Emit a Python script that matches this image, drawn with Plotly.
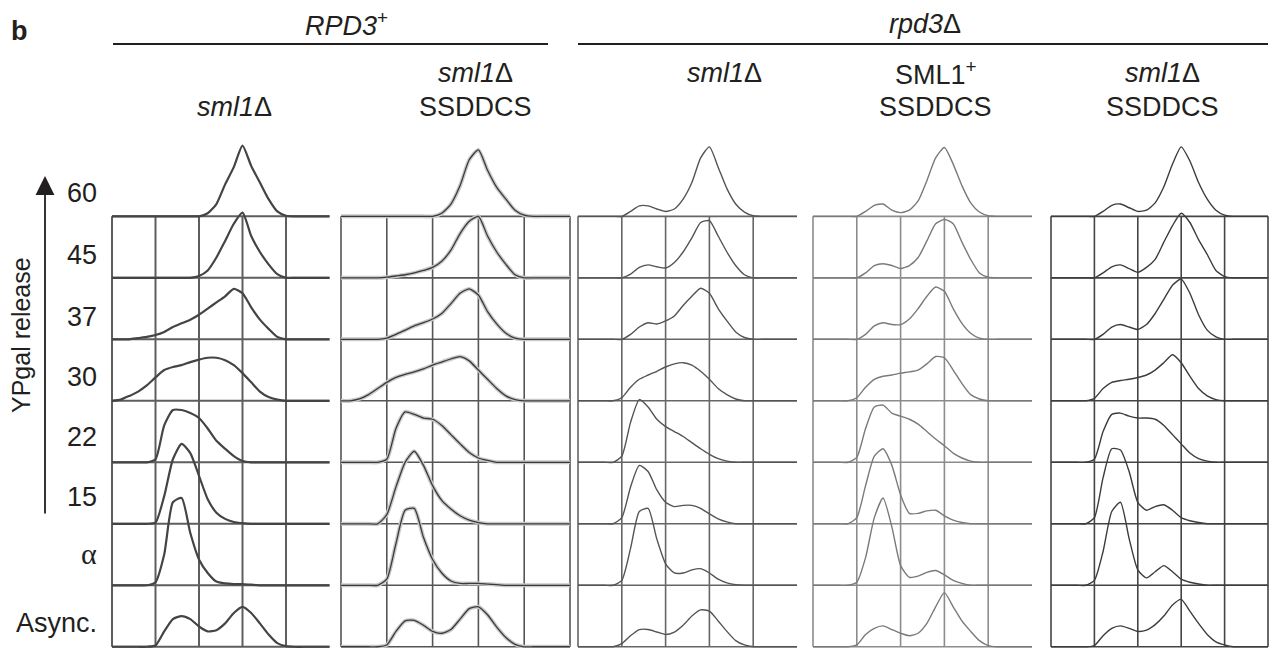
import plotly.graph_objects as go

# ---------------- data ----------------
x_bins = [0.0, 0.2, 0.4, 0.6, 0.8, 1.0, 1.2, 1.4, 1.6, 1.8, 2.0, 2.2, 2.4,
          2.6, 2.8, 3.0, 3.2, 3.4, 3.6, 3.8, 4.0, 4.2, 4.4, 4.6, 4.8, 5.0]

row_labels = ["Async.", "α", "15", "22", "30", "37", "45", "60"]

# column 1: RPD3+ sml1Δ
c1_async = [0, 0, 0, 0, 0, 0.02, 0.25, 0.45, 0.5, 0.45, 0.33, 0.25, 0.27, 0.38, 0.55, 0.65, 0.55, 0.38, 0.2, 0.06, 0.01, 0, 0, 0, 0, 0]
c1_alpha = [0, 0, 0, 0, 0, 0.05, 0.5, 1.35, 1.42, 0.85, 0.42, 0.2, 0.06, 0.03, 0.02, 0.02, 0.01, 0, 0, 0, 0, 0, 0, 0, 0, 0]
c1_15 = [0, 0, 0, 0, 0, 0.02, 0.45, 1.05, 1.3, 1.15, 0.78, 0.4, 0.18, 0.08, 0.03, 0.01, 0, 0, 0, 0, 0, 0, 0, 0, 0, 0]
c1_22 = [0, 0, 0, 0, 0, 0.05, 0.6, 0.85, 0.85, 0.8, 0.72, 0.55, 0.35, 0.22, 0.1, 0.02, 0, 0, 0, 0, 0, 0, 0, 0, 0, 0]
c1_30 = [0, 0.02, 0.08, 0.15, 0.25, 0.38, 0.5, 0.55, 0.58, 0.63, 0.67, 0.7, 0.7, 0.66, 0.58, 0.45, 0.3, 0.15, 0.06, 0.02, 0, 0, 0, 0, 0, 0]
c1_37 = [0, 0, 0, 0.02, 0.04, 0.07, 0.12, 0.2, 0.26, 0.32, 0.4, 0.5, 0.6, 0.7, 0.82, 0.75, 0.52, 0.32, 0.17, 0.04, 0, 0, 0, 0, 0, 0]
c1_45 = [0, 0, 0, 0, 0, 0, 0, 0, 0, 0, 0.03, 0.12, 0.33, 0.6, 0.88, 1.06, 0.68, 0.42, 0.22, 0.06, 0, 0, 0, 0, 0, 0]
c1_60 = [0, 0, 0, 0, 0, 0, 0, 0, 0, 0, 0, 0.05, 0.2, 0.52, 0.8, 1.15, 0.82, 0.55, 0.28, 0.08, 0.01, 0, 0, 0, 0, 0]

# column 2: RPD3+ sml1Δ SSDDCS
c2_async = [0, 0, 0, 0, 0, 0.03, 0.25, 0.42, 0.43, 0.35, 0.25, 0.22, 0.28, 0.45, 0.62, 0.65, 0.52, 0.32, 0.15, 0.04, 0, 0, 0, 0, 0, 0]
c2_alpha = [0, 0, 0, 0, 0, 0.1, 0.68, 1.22, 1.25, 0.78, 0.42, 0.2, 0.07, 0.03, 0.03, 0.03, 0.02, 0.01, 0, 0, 0, 0, 0, 0, 0, 0]
c2_15 = [0, 0, 0, 0, 0, 0.15, 0.6, 1.0, 1.18, 0.95, 0.62, 0.38, 0.24, 0.13, 0.06, 0.02, 0, 0, 0, 0, 0, 0, 0, 0, 0, 0]
c2_22 = [0, 0, 0, 0, 0, 0.05, 0.55, 0.82, 0.78, 0.72, 0.7, 0.6, 0.45, 0.3, 0.16, 0.07, 0.03, 0, 0, 0, 0, 0, 0, 0, 0, 0]
c2_30 = [0, 0, 0.03, 0.1, 0.2, 0.3, 0.38, 0.43, 0.47, 0.52, 0.58, 0.63, 0.68, 0.72, 0.65, 0.5, 0.35, 0.2, 0.08, 0.02, 0, 0, 0, 0, 0, 0]
c2_37 = [0, 0, 0, 0, 0, 0.02, 0.08, 0.15, 0.22, 0.27, 0.33, 0.42, 0.58, 0.75, 0.82, 0.72, 0.45, 0.25, 0.1, 0.02, 0, 0, 0, 0, 0, 0]
c2_45 = [0, 0, 0, 0, 0, 0.01, 0.03, 0.05, 0.08, 0.12, 0.17, 0.27, 0.45, 0.72, 0.92, 1.0, 0.68, 0.42, 0.22, 0.05, 0, 0, 0, 0, 0, 0]
c2_60 = [0, 0, 0, 0, 0, 0, 0, 0, 0, 0, 0, 0.05, 0.2, 0.5, 0.92, 1.08, 0.75, 0.47, 0.28, 0.1, 0.02, 0, 0, 0, 0, 0]

# column 3: rpd3Δ sml1Δ
c3_async = [0, 0, 0, 0, 0, 0.05, 0.18, 0.28, 0.28, 0.24, 0.2, 0.24, 0.35, 0.5, 0.6, 0.58, 0.42, 0.25, 0.1, 0.03, 0, 0, 0, 0, 0, 0]
c3_alpha = [0, 0, 0, 0, 0, 0.08, 0.6, 1.2, 1.25, 0.75, 0.35, 0.2, 0.2, 0.25, 0.27, 0.2, 0.1, 0.04, 0.01, 0, 0, 0, 0, 0, 0, 0]
c3_15 = [0, 0, 0, 0, 0, 0.1, 0.6, 0.95, 0.85, 0.55, 0.35, 0.28, 0.3, 0.3, 0.25, 0.16, 0.08, 0.03, 0, 0, 0, 0, 0, 0, 0, 0]
c3_22 = [0, 0, 0, 0, 0, 0.1, 0.65, 1.02, 0.9, 0.7, 0.58, 0.5, 0.42, 0.32, 0.22, 0.13, 0.06, 0.02, 0, 0, 0, 0, 0, 0, 0, 0]
c3_30 = [0, 0, 0, 0, 0, 0.05, 0.22, 0.35, 0.42, 0.48, 0.55, 0.6, 0.62, 0.58, 0.48, 0.35, 0.2, 0.1, 0.03, 0, 0, 0, 0, 0, 0, 0]
c3_37 = [0, 0, 0, 0, 0, 0, 0.08, 0.2, 0.27, 0.25, 0.3, 0.38, 0.55, 0.7, 0.83, 0.75, 0.5, 0.3, 0.12, 0.03, 0, 0, 0, 0, 0, 0]
c3_45 = [0, 0, 0, 0, 0, 0, 0.06, 0.17, 0.21, 0.18, 0.16, 0.25, 0.42, 0.65, 0.9, 0.93, 0.68, 0.42, 0.2, 0.05, 0, 0, 0, 0, 0, 0]
c3_60 = [0, 0, 0, 0, 0, 0, 0.08, 0.17, 0.17, 0.12, 0.08, 0.12, 0.28, 0.55, 0.95, 1.13, 0.8, 0.45, 0.2, 0.07, 0.01, 0, 0, 0, 0, 0]

# column 4: rpd3Δ SML1+ SSDDCS
c4_async = [0, 0, 0, 0, 0, 0.03, 0.2, 0.3, 0.34, 0.28, 0.22, 0.18, 0.22, 0.38, 0.65, 0.88, 0.65, 0.42, 0.25, 0.1, 0.02, 0, 0, 0, 0, 0]
c4_alpha = [0, 0, 0, 0, 0, 0.05, 0.45, 1.1, 1.42, 0.95, 0.32, 0.13, 0.15, 0.21, 0.24, 0.17, 0.08, 0.03, 0, 0, 0, 0, 0, 0, 0, 0]
c4_15 = [0, 0, 0, 0, 0, 0.1, 0.62, 1.1, 1.22, 0.95, 0.47, 0.17, 0.17, 0.21, 0.22, 0.13, 0.06, 0.02, 0, 0, 0, 0, 0, 0, 0, 0]
c4_22 = [0, 0, 0, 0, 0, 0.08, 0.55, 0.9, 0.93, 0.8, 0.75, 0.7, 0.62, 0.5, 0.38, 0.27, 0.15, 0.07, 0.02, 0, 0, 0, 0, 0, 0, 0]
c4_30 = [0, 0, 0, 0, 0, 0.05, 0.22, 0.35, 0.4, 0.42, 0.45, 0.47, 0.5, 0.6, 0.72, 0.7, 0.5, 0.28, 0.1, 0.03, 0, 0, 0, 0, 0, 0]
c4_37 = [0, 0, 0, 0, 0, 0, 0.08, 0.22, 0.27, 0.24, 0.24, 0.33, 0.5, 0.7, 0.85, 0.78, 0.5, 0.26, 0.1, 0.02, 0, 0, 0, 0, 0, 0]
c4_45 = [0, 0, 0, 0, 0, 0, 0.08, 0.2, 0.23, 0.2, 0.15, 0.2, 0.33, 0.6, 0.88, 0.95, 0.88, 0.58, 0.3, 0.08, 0.01, 0, 0, 0, 0, 0]
c4_60 = [0, 0, 0, 0, 0, 0, 0.08, 0.18, 0.2, 0.1, 0.06, 0.1, 0.25, 0.58, 0.95, 1.12, 0.85, 0.5, 0.22, 0.07, 0.01, 0, 0, 0, 0, 0]

# column 5: rpd3Δ sml1Δ SSDDCS
c5_async = [0, 0, 0, 0, 0, 0.02, 0.18, 0.3, 0.34, 0.3, 0.25, 0.27, 0.36, 0.5, 0.68, 0.77, 0.58, 0.38, 0.2, 0.08, 0.03, 0, 0, 0, 0, 0]
c5_alpha = [0, 0, 0, 0, 0, 0.08, 0.55, 1.2, 1.35, 0.76, 0.25, 0.12, 0.22, 0.32, 0.22, 0.1, 0.05, 0.02, 0, 0, 0, 0, 0, 0, 0, 0]
c5_15 = [0, 0, 0, 0, 0, 0.1, 0.75, 1.22, 1.2, 0.85, 0.35, 0.22, 0.28, 0.31, 0.22, 0.1, 0.05, 0.02, 0, 0, 0, 0, 0, 0, 0, 0]
c5_22 = [0, 0, 0, 0, 0, 0.05, 0.5, 0.78, 0.8, 0.75, 0.72, 0.72, 0.7, 0.6, 0.45, 0.3, 0.15, 0.06, 0.02, 0, 0, 0, 0, 0, 0, 0]
c5_30 = [0, 0, 0, 0, 0, 0.04, 0.2, 0.3, 0.33, 0.35, 0.38, 0.42, 0.5, 0.62, 0.75, 0.62, 0.4, 0.2, 0.08, 0.02, 0, 0, 0, 0, 0, 0]
c5_37 = [0, 0, 0, 0, 0, 0, 0.08, 0.2, 0.24, 0.2, 0.16, 0.24, 0.42, 0.65, 0.88, 0.98, 0.75, 0.4, 0.15, 0.04, 0, 0, 0, 0, 0, 0]
c5_45 = [0, 0, 0, 0, 0, 0, 0.08, 0.18, 0.21, 0.15, 0.09, 0.17, 0.3, 0.58, 0.85, 1.05, 0.9, 0.62, 0.38, 0.12, 0.02, 0, 0, 0, 0, 0]
c5_60 = [0, 0, 0, 0, 0, 0, 0.08, 0.18, 0.2, 0.14, 0.08, 0.1, 0.22, 0.48, 0.85, 1.13, 0.9, 0.55, 0.28, 0.1, 0.02, 0, 0, 0, 0, 0]

columns = [
    [c1_async, c1_alpha, c1_15, c1_22, c1_30, c1_37, c1_45, c1_60],
    [c2_async, c2_alpha, c2_15, c2_22, c2_30, c2_37, c2_45, c2_60],
    [c3_async, c3_alpha, c3_15, c3_22, c3_30, c3_37, c3_45, c3_60],
    [c4_async, c4_alpha, c4_15, c4_22, c4_30, c4_37, c4_45, c4_60],
    [c5_async, c5_alpha, c5_15, c5_22, c5_30, c5_37, c5_45, c5_60],
]

grid_x = [0, 1, 2, 3, 4, 5]

# ---------------- styling / layout ----------------
W, H = 1272, 648
FONT = "Liberation Sans, Arial, sans-serif"
TXT = "#231f20"
panel_px = [(112, 329.5), (341, 570), (578, 797), (813, 1032), (1051, 1268)]
right_edge = [False, True, False, False, True]
curve_col = ["#444444", "#3a3a3a", "#545454", "#7a7a7a", "#3c3c3c"]
curve_w = [2.2, 1.3, 1.4, 1.4, 1.4]
grid_col = ["#5e5e5e", "#555555", "#666666", "#8c8c8c", "#444444"]
grid_w = [2.0, 1.6, 1.6, 1.6, 1.6]
PAD = 0.05
Y0, Y1 = -0.02, 8.2
y_dom = [0, 0.78]

fig = go.Figure()
n_rows = len(row_labels)

for ci, col in enumerate(columns):
    xa = "x" if ci == 0 else f"x{ci + 1}"
    gx, gy = [], []
    for r in range(n_rows):
        gx += [grid_x[0], grid_x[-1], None]
        gy += [r, r, None]
    vlines = grid_x if right_edge[ci] else grid_x[:-1]
    for v in vlines:
        gx += [v, v, None]
        gy += [0, n_rows - 1, None]
    fig.add_trace(go.Scatter(x=gx, y=gy, mode="lines", xaxis=xa, yaxis="y",
                             line=dict(color=grid_col[ci], width=grid_w[ci]),
                             hoverinfo="skip", showlegend=False))
    for r, h in enumerate(col):
        ys = [r + v for v in h]
        if ci == 1:
            fig.add_trace(go.Scatter(x=x_bins, y=ys, mode="lines", xaxis=xa, yaxis="y",
                                     line=dict(color="#c9c9c9", width=4, shape="spline", smoothing=0.6),
                                     hoverinfo="skip", showlegend=False))
        fig.add_trace(go.Scatter(x=x_bins, y=ys, mode="lines", xaxis=xa, yaxis="y",
                                 line=dict(color=curve_col[ci], width=curve_w[ci], shape="spline", smoothing=0.6),
                                 name=row_labels[r], hoverinfo="skip", showlegend=False))

axis_common = dict(visible=False, showgrid=False, zeroline=False, fixedrange=True)
layout_axes = {}
for ci, (l, rgt) in enumerate(panel_px):
    unit = (rgt - l) / 5
    d0 = (l - PAD * unit) / W
    d1 = min(1.0, (rgt + PAD * unit) / W)
    key = "xaxis" if ci == 0 else f"xaxis{ci + 1}"
    layout_axes[key] = dict(domain=[d0, d1], range=[-PAD, 5 + PAD], anchor="y", **axis_common)
layout_axes["yaxis"] = dict(domain=y_dom, range=[Y0, Y1], **axis_common)


def py(px):
    return 1 - px / H


def px_x(px):
    return px / W


ann = []
label_y = [623, 553, 497, 437, 377, 317, 255, 193]
for lab, yy in zip(row_labels, label_y):
    if lab == "α":
        fnt = dict(family="Liberation Serif, Times New Roman, serif", size=30, color=TXT)
    else:
        fnt = dict(family=FONT, size=27, color=TXT)
    ann.append(dict(x=px_x(99), y=py(yy), xref="paper", yref="paper", text=lab,
                    showarrow=False, xanchor="right", yanchor="middle", font=fnt))
# arrow
ann.append(dict(x=px_x(45), y=py(176), xref="paper", yref="paper", text="",
                showarrow=True, arrowhead=2, arrowsize=2.1, arrowwidth=1.8,
                arrowcolor=TXT, ax=0, ay=339))
ann.append(dict(x=px_x(21), y=py(335), xref="paper", yref="paper", text="YPgal release",
                showarrow=False, textangle=-90, xanchor="center", yanchor="middle",
                font=dict(family=FONT, size=25, color=TXT)))
ann.append(dict(x=px_x(19), y=py(31), xref="paper", yref="paper", text="<b>b</b>",
                showarrow=False, xanchor="center", yanchor="middle",
                font=dict(family=FONT, size=27, color=TXT)))
ann.append(dict(x=px_x(346), y=py(24), xref="paper", yref="paper", text="<i>RPD3</i><sup>+</sup>",
                showarrow=False, xanchor="center", yanchor="middle",
                font=dict(family=FONT, size=27, color=TXT)))
ann.append(dict(x=px_x(925), y=py(24), xref="paper", yref="paper", text="<i>rpd3</i>Δ",
                showarrow=False, xanchor="center", yanchor="middle",
                font=dict(family=FONT, size=27, color=TXT)))
col_titles = [
    (235, None, "<i>sml1</i>Δ"),
    (476, "<i>sml1</i>Δ", "SSDDCS"),
    (724, "<i>sml1</i>Δ", None),
    (936, "SML1<sup>+</sup>", "SSDDCS"),
    (1162, "<i>sml1</i>Δ", "SSDDCS"),
]
for cx, t1, t2 in col_titles:
    if t1:
        ann.append(dict(x=px_x(cx), y=py(73), xref="paper", yref="paper", text=t1,
                        showarrow=False, xanchor="center", yanchor="middle",
                        font=dict(family=FONT, size=27, color=TXT)))
    if t2:
        ann.append(dict(x=px_x(cx), y=py(107), xref="paper", yref="paper", text=t2,
                        showarrow=False, xanchor="center", yanchor="middle",
                        font=dict(family=FONT, size=27, color=TXT)))

shapes = [
    dict(type="line", xref="paper", yref="paper", x0=px_x(113), x1=px_x(548), y0=py(44), y1=py(44),
         line=dict(color=TXT, width=2)),
    dict(type="line", xref="paper", yref="paper", x0=px_x(578), x1=px_x(1268), y0=py(44), y1=py(44),
         line=dict(color=TXT, width=2)),
]

fig.update_layout(width=W, height=H, margin=dict(l=0, r=0, t=0, b=0),
                  paper_bgcolor="white", plot_bgcolor="white",
                  annotations=ann, shapes=shapes, showlegend=False, **layout_axes)

fig.write_html("out.html", config={"displayModeBar": False},
               post_script="document.body.style.margin='0';document.body.style.overflow='hidden';")
